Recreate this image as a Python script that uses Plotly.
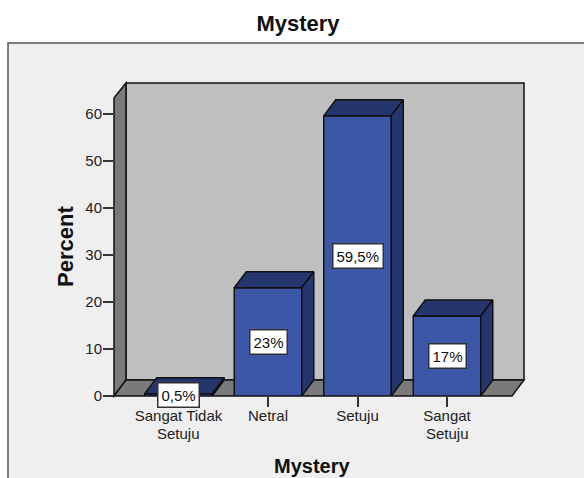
import plotly.graph_objects as go

# Survey response shares
categories = ["Sangat Tidak", "Netral", "Setuju", "Sangat"]
second_lines = ["Setuju", "", "", "Setuju"]
percents = [0.5, 23, 59.5, 17]
value_labels = ["0,5%", "23%", "59,5%", "17%"]
y_ticks = [0, 10, 20, 30, 40, 50, 60]

W, H = 584, 478
FONT = "Liberation Sans, Arial, sans-serif"
FRONT = "#3C56A8"
SHADE = "#25366E"
EDGE = "#111111"
TEXT = "#222222"

# Axes rectangle in pixels; the depth of the 3D box is a pixel offset too
LEFT, RIGHT, TOP, BOTTOM = 114, 524, 83, 396
DEPTH_X, DEPTH_Y = 12, 16
STEP = 89.5          # pixels between category centres
FIRST = 178.5        # pixel centre of the first category
PER_UNIT = 4.708     # pixels per percentage point
BAR_W = 67.5 / STEP
DX = DEPTH_X / STEP
DY = DEPTH_Y / PER_UNIT


def px(x):
    return x / W


def py(y):
    return 1 - y / H


def poly(points, fill):
    path = "M" + " L".join(f"{px(x):.5f},{py(y):.5f}" for x, y in points) + " Z"
    return dict(type="path", xref="paper", yref="paper", path=path, fillcolor=fill,
                line=dict(color=EDGE, width=1.5), layer="below")


fig = go.Figure()

fig.add_trace(go.Bar(
    x=list(range(len(percents))), y=percents, width=BAR_W, cliponaxis=False,
    marker=dict(color=FRONT, line=dict(color=EDGE, width=1.5)), hoverinfo="skip",
))

# Top and side faces extruded from each bar's value
for i, v in enumerate(percents):
    l, r = i - BAR_W / 2, i + BAR_W / 2
    fig.add_trace(go.Scatter(
        x=[l, l + DX, r + DX, r, l], y=[v, v + DY, v + DY, v, v],
        mode="lines", fill="toself", fillcolor=SHADE, cliponaxis=False,
        line=dict(color=EDGE, width=1.5), hoverinfo="skip",
    ))
    fig.add_trace(go.Scatter(
        x=[r, r + DX, r + DX, r, r], y=[v, v + DY, DY, 0, v],
        mode="lines", fill="toself", fillcolor=SHADE, cliponaxis=False,
        line=dict(color=EDGE, width=1.5), hoverinfo="skip",
    ))

annotations = []
for i, (v, label) in enumerate(zip(percents, value_labels)):
    annotations.append(dict(
        x=i, y=v / 2, xref="x", yref="y", text=label, showarrow=False,
        font=dict(family=FONT, size=15, color="#111111"), bgcolor="white",
        bordercolor="#333333", borderwidth=1.5, borderpad=3,
    ))
for i, line in enumerate(second_lines):
    if line:
        annotations.append(dict(
            x=i, y=py(433), xref="x", yref="paper", yanchor="middle", text=line, showarrow=False,
            font=dict(family=FONT, size=15, color=TEXT),
        ))

# Axis titles sit off-centre from the axes, so they are placed directly
annotations.append(dict(
    x=px(312), y=py(465.5), xref="paper", yref="paper", xanchor="center", yanchor="middle",
    text="<b>Mystery</b>", showarrow=False, font=dict(family=FONT, size=20, color="#111111"),
))
annotations.append(dict(
    x=px(65), y=py(247), xref="paper", yref="paper", xanchor="center", yanchor="middle",
    text="<b>Percent</b>", textangle=-90, showarrow=False, font=dict(family=FONT, size=22, color="#111111"),
))

shapes = [
    dict(type="rect", xref="paper", yref="paper", x0=px(8), x1=px(W + 20), y0=py(43), y1=py(H + 20),
         fillcolor="#EFEFEF", line=dict(color="#555555", width=1.5), layer="below"),
    poly([(LEFT + DEPTH_X, TOP), (RIGHT, TOP), (RIGHT, BOTTOM - DEPTH_Y), (LEFT + DEPTH_X, BOTTOM - DEPTH_Y)], "#BFBFBF"),
    poly([(LEFT, TOP + 15), (LEFT + DEPTH_X, TOP), (LEFT + DEPTH_X, BOTTOM - DEPTH_Y), (LEFT, BOTTOM)], "#7A7A7A"),
    poly([(LEFT, BOTTOM), (LEFT + DEPTH_X, BOTTOM - DEPTH_Y), (RIGHT, BOTTOM - DEPTH_Y), (RIGHT - DEPTH_X, BOTTOM)], "#7A7A7A"),
]

fig.update_layout(
    width=W, height=H, margin=dict(l=0, r=0, t=0, b=0), autosize=False,
    paper_bgcolor="white", plot_bgcolor="rgba(0,0,0,0)", showlegend=False,
    title=dict(text="<b>Mystery</b>", x=298 / W, y=py(23.5), xanchor="center", yanchor="middle",
               font=dict(family=FONT, size=22, color="#111111")),
    shapes=shapes, annotations=annotations,
    xaxis=dict(
        domain=[px(LEFT), px(RIGHT)],
        range=[(LEFT - FIRST) / STEP, (RIGHT - FIRST) / STEP],
        tickmode="array", tickvals=list(range(len(categories))), ticktext=categories,
        ticks="outside", ticklen=10, tickwidth=1.5, tickcolor="#333333",
        ticklabelstandoff=-4,
        tickfont=dict(family=FONT, size=15, color=TEXT),
        showgrid=False, zeroline=False, showline=False, automargin=False,
    ),
    yaxis=dict(
        domain=[py(BOTTOM), py(TOP)],
        range=[0, (BOTTOM - TOP) / PER_UNIT],
        tickmode="array", tickvals=y_ticks,
        ticks="outside", ticklen=10, tickwidth=1.5, tickcolor="#333333",
        ticklabelstandoff=-2,
        tickfont=dict(family=FONT, size=15, color=TEXT),
        showgrid=False, zeroline=False, showline=False, automargin=False,
    ),
)

fig.write_html("out.html", config=dict(displayModeBar=False))
